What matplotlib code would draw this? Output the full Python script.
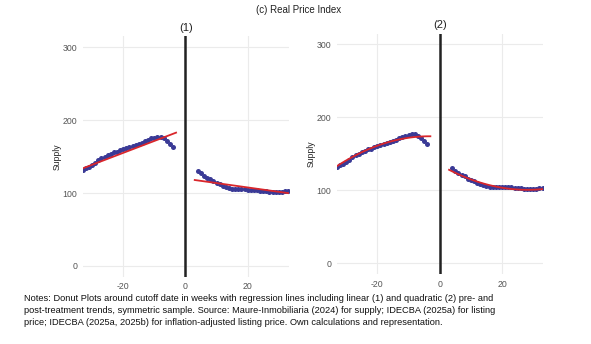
import matplotlib
matplotlib.use("Agg")
import matplotlib.pyplot as plt
import numpy as np

plt.rcParams['font.family'] = ['Liberation Sans', 'DejaVu Sans']
plt.rcParams['axes.unicode_minus'] = False

# weeks around cutoff (donut: -3..3 excluded)
weeks_pre = list(range(-33, -3))
weeks_post = list(range(4, 34))

supply_pre = [132, 134, 136, 139, 142, 145, 148, 150, 152, 154,
              156, 157, 159, 160, 162, 163, 165, 166, 168, 169,
              171, 173, 175, 176, 177, 177, 175, 172, 168, 163]
supply_post = [130, 127, 124, 121, 119, 116, 114, 112, 110, 108,
               107, 106, 105, 105, 105, 105, 104, 104, 104, 104,
               103, 103, 103, 102, 102, 102, 102, 102, 103, 103]

# fitted values of the regression lines
fit_x_pre = [-33, -18, -3]
fit_x_post = [3, 18, 33]
fit_lin_pre = [134, 158.5, 183]
fit_lin_post = [118, 109, 100]
fit_quad_pre = [133, 164, 174]
fit_quad_post = [128, 105, 101.5]

panels = ["(1)", "(2)"]
degrees = [1, 2]
fits = [(fit_lin_pre, fit_lin_post), (fit_quad_pre, fit_quad_post)]
x_ticks = [-20, 0, 20]
y_ticks = [0, 100, 200, 300]

notes = ("Notes: Donut Plots around cutoff date in weeks with regression lines including linear (1) and quadratic (2) pre- and\n"
         "post-treatment trends, symmetric sample. Source: Maure-Inmobiliaria (2024) for supply; IDECBA (2025a) for listing\n"
         "price; IDECBA (2025a, 2025b) for inflation-adjusted listing price. Own calculations and representation.")

fig = plt.figure(figsize=(5.91, 3.44), dpi=100)
axes_pos = [[0.140, 0.195, 0.349, 0.699], [0.570, 0.2035, 0.3496, 0.699]]

blue = '#3a3a96'
red = '#d9262b'

for pos, title, deg, (fpre, fpost) in zip(axes_pos, panels, degrees, fits):
    ax = fig.add_axes(pos)
    ax.scatter(weeks_pre, supply_pre, s=13, color=blue, zorder=3, linewidths=0)
    ax.scatter(weeks_post, supply_post, s=13, color=blue, zorder=3, linewidths=0)

    # regression lines
    for fx, fy in [(fit_x_pre, fpre), (fit_x_post, fpost)]:
        coef = np.polyfit(fx, fy, deg)
        xx = np.linspace(fx[0], fx[-1], 60)
        ax.plot(xx, np.polyval(coef, xx), color=red, lw=1.3, zorder=4)

    ax.axvline(0, color='#222222', lw=1.8, zorder=5)

    ax.set_xlim(-33, 33.3)
    ax.set_ylim(-15, 315)
    ax.set_xticks(x_ticks)
    ax.set_yticks(y_ticks)
    ax.grid(True, color='#ebebeb', lw=0.8)
    ax.set_axisbelow(True)
    for s in ax.spines.values():
        s.set_visible(False)
    ax.tick_params(axis='y', length=0, labelsize=6.3, labelcolor='#555555', pad=4)
    ax.tick_params(axis='x', length=0, labelsize=6.3, labelcolor='#555555', pad=4)
    ax.set_ylabel("Supply", fontsize=6.2, color='#222222', labelpad=0.5)
    ax.set_title(title, fontsize=8, pad=4, color='#222222')

fig.text(0.505, 0.985, "(c) Real Price Index", ha='center', va='top', fontsize=7, color='#222222')
fig.text(0.04, 0.145, notes, ha='left', va='top', fontsize=6.7, color='#111111', linespacing=1.45)

fig.savefig("out.png", dpi=100)
